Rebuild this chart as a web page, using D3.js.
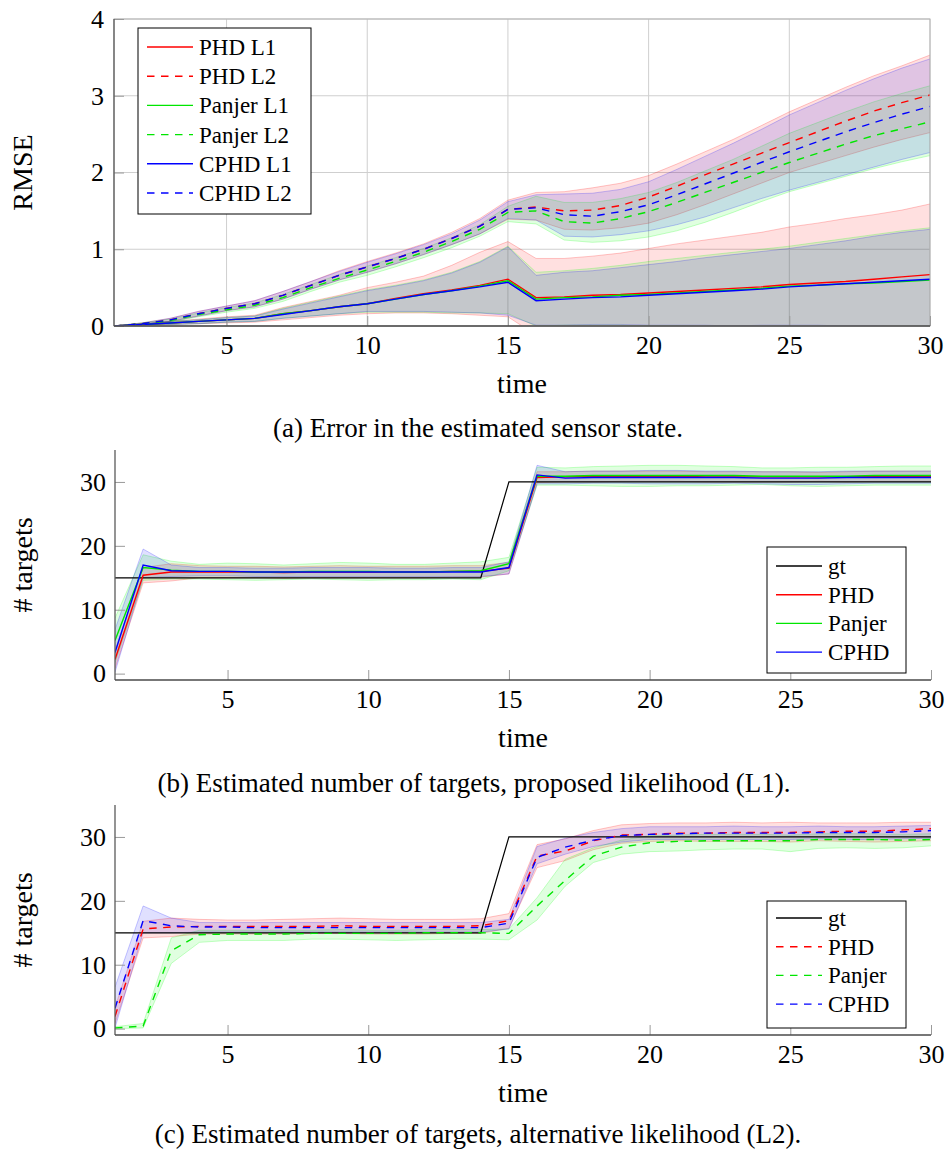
<!DOCTYPE html>
<html>
<head>
<meta charset="utf-8">
<script src="https://cdn.jsdelivr.net/npm/d3@7"></script>
<style>
  body { margin: 0; background: #fff; }
  text { font-family: "Liberation Serif", "Times New Roman", serif; fill: #000; }
</style>
</head>
<body>
<svg id="fig" width="947" height="1153"></svg>
<script>
const time = [1,2,3,4,5,6,7,8,9,10,11,12,13,14,15,16,17,18,19,20,21,22,23,24,25,26,27,28,29,30];
const xTickValues = [5,10,15,20,25,30];
const rmseTicks = [0,1,2,3,4];
const cardTicks = [0,10,20,30];

// (a) RMSE of the sensor state, mean line and band edges
const rmsePhdL1    = [0.00,0.02,0.04,0.06,0.08,0.10,0.16,0.20,0.25,0.29,0.36,0.42,0.47,0.53,0.61,0.37,0.38,0.40,0.41,0.43,0.45,0.47,0.49,0.51,0.54,0.56,0.58,0.61,0.64,0.67];
const rmsePanjerL1 = [0.00,0.02,0.04,0.06,0.08,0.10,0.16,0.20,0.25,0.29,0.35,0.41,0.46,0.52,0.59,0.35,0.37,0.38,0.40,0.41,0.43,0.45,0.47,0.49,0.52,0.53,0.55,0.56,0.58,0.60];
const rmseCphdL1   = [0.00,0.02,0.04,0.06,0.08,0.10,0.15,0.20,0.25,0.29,0.35,0.41,0.46,0.51,0.57,0.33,0.35,0.37,0.38,0.40,0.42,0.44,0.46,0.48,0.51,0.53,0.55,0.57,0.59,0.61];
const rmsePhdL1Hi    = [0.00,0.03,0.06,0.09,0.12,0.14,0.24,0.32,0.40,0.50,0.57,0.65,0.79,0.96,1.10,0.88,0.88,0.91,0.95,1.01,1.07,1.12,1.17,1.22,1.29,1.34,1.40,1.45,1.51,1.59];
const rmsePhdL1Lo    = [0.00,0.01,0.02,0.03,0.04,0.05,0.08,0.11,0.14,0.16,0.17,0.17,0.16,0.14,0.12,-0.12,-0.12,-0.12,-0.13,-0.14,-0.16,-0.17,-0.18,-0.19,-0.20,-0.21,-0.22,-0.22,-0.23,-0.25];
const rmsePanjerL1Hi = [0.00,0.03,0.06,0.08,0.11,0.13,0.23,0.31,0.39,0.47,0.53,0.60,0.70,0.84,1.04,0.70,0.72,0.75,0.79,0.84,0.88,0.92,0.96,1.00,1.04,1.09,1.14,1.19,1.24,1.28];
const rmsePanjerL1Lo = [0.00,0.01,0.02,0.03,0.05,0.06,0.10,0.13,0.16,0.18,0.18,0.18,0.17,0.17,0.16,0.00,0.01,0.01,0.01,0.00,0.00,-0.01,-0.01,-0.02,-0.02,-0.03,-0.04,-0.05,-0.06,-0.08];
const rmseCphdL1Hi   = [0.00,0.03,0.06,0.08,0.11,0.13,0.22,0.30,0.38,0.46,0.52,0.59,0.69,0.83,1.03,0.66,0.70,0.72,0.76,0.80,0.84,0.89,0.93,0.97,1.01,1.06,1.11,1.17,1.22,1.26];
const rmseCphdL1Lo   = [0.00,0.01,0.02,0.03,0.05,0.06,0.10,0.13,0.16,0.19,0.19,0.19,0.18,0.17,0.14,0.01,0.01,0.02,0.02,0.01,0.01,0.01,0.00,0.01,0.01,0.01,0.00,0.00,-0.01,-0.02];

const rmsePhdL2    = [0.00,0.03,0.08,0.16,0.23,0.29,0.40,0.53,0.66,0.77,0.88,1.00,1.14,1.30,1.52,1.55,1.50,1.51,1.57,1.68,1.82,1.97,2.11,2.25,2.39,2.53,2.67,2.80,2.91,3.01];
const rmsePanjerL2 = [0.00,0.03,0.07,0.15,0.21,0.27,0.37,0.50,0.62,0.73,0.84,0.96,1.10,1.26,1.48,1.50,1.36,1.34,1.40,1.49,1.61,1.74,1.87,2.00,2.13,2.25,2.37,2.48,2.57,2.66];
const rmseCphdL2   = [0.00,0.03,0.08,0.16,0.23,0.29,0.40,0.53,0.66,0.77,0.88,1.00,1.14,1.30,1.52,1.54,1.45,1.43,1.49,1.58,1.71,1.85,1.99,2.13,2.27,2.40,2.53,2.65,2.76,2.86];
const rmsePhdL2Hi    = [0.00,0.04,0.10,0.19,0.26,0.33,0.45,0.58,0.72,0.84,0.95,1.07,1.22,1.40,1.64,1.74,1.75,1.80,1.86,1.96,2.11,2.27,2.43,2.61,2.79,2.95,3.11,3.26,3.39,3.53];
const rmsePhdL2Lo    = [0.00,0.02,0.06,0.13,0.20,0.25,0.35,0.48,0.60,0.70,0.81,0.93,1.06,1.20,1.39,1.38,1.26,1.25,1.28,1.34,1.45,1.58,1.72,1.86,2.00,2.11,2.22,2.33,2.43,2.52];
const rmsePanjerL2Hi = [0.00,0.04,0.09,0.17,0.24,0.30,0.41,0.54,0.67,0.78,0.89,1.01,1.15,1.32,1.56,1.69,1.61,1.61,1.66,1.74,1.87,2.02,2.17,2.34,2.51,2.65,2.79,2.92,3.03,3.13];
const rmsePanjerL2Lo = [0.00,0.02,0.05,0.12,0.18,0.23,0.32,0.45,0.57,0.66,0.77,0.89,1.02,1.17,1.36,1.33,1.12,1.09,1.11,1.16,1.24,1.35,1.48,1.62,1.75,1.85,1.95,2.05,2.14,2.22];
const rmseCphdL2Hi   = [0.00,0.04,0.10,0.19,0.26,0.33,0.45,0.58,0.71,0.83,0.94,1.06,1.20,1.38,1.62,1.71,1.72,1.73,1.78,1.88,2.04,2.21,2.38,2.56,2.75,2.91,3.07,3.22,3.36,3.48];
const rmseCphdL2Lo   = [0.00,0.02,0.06,0.13,0.20,0.25,0.35,0.48,0.60,0.70,0.81,0.93,1.06,1.20,1.40,1.38,1.17,1.16,1.19,1.24,1.32,1.42,1.54,1.66,1.77,1.87,1.97,2.07,2.17,2.26];

// (b) and (c) number of targets
const cardGt = [15,15,15,15,15,15,15,15,15,15,15,15,15,15,30,30,30,30,30,30,30,30,30,30,30,30,30,30,30,30];

const cardPhdL1    = [2.2,15.4,15.9,15.9,15.9,15.9,15.8,15.9,15.9,15.9,15.9,15.9,16.0,16.0,16.5,30.7,30.8,30.9,30.9,30.9,30.9,30.8,30.8,30.8,30.8,30.8,30.8,30.9,30.9,30.9];
const cardPanjerL1 = [5.2,16.6,16.2,16.0,16.0,15.9,15.9,16.0,16.0,16.0,15.9,15.9,16.0,16.1,17.2,30.9,30.9,31.0,31.0,31.0,31.0,31.0,31.0,30.9,30.9,30.9,30.9,31.0,31.0,31.0];
const cardCphdL1   = [3.3,17.0,16.1,16.0,16.0,15.9,15.9,15.9,15.9,15.9,15.9,15.9,15.9,15.9,16.6,31.1,30.6,30.7,30.7,30.7,30.7,30.7,30.7,30.6,30.6,30.6,30.7,30.7,30.7,30.7];
const cardPhdL1Hi    = [3.6,16.6,17.2,16.9,16.8,16.8,16.7,16.8,16.9,16.8,16.8,16.8,16.9,16.9,17.4,31.6,31.6,31.7,31.7,31.7,31.7,31.6,31.6,31.6,31.6,31.5,31.6,31.7,31.7,31.7];
const cardPhdL1Lo    = [0.8,14.2,14.5,15.0,15.0,15.0,14.9,15.0,15.0,15.0,15.0,15.0,15.1,15.1,15.6,29.9,30.0,30.0,30.1,30.1,30.1,30.0,30.0,30.0,30.0,30.1,30.0,30.1,30.1,30.1];
const cardPanjerL1Hi = [8.7,18.6,17.6,17.1,17.3,17.2,17.0,17.2,17.4,17.3,17.1,17.1,17.3,17.5,18.2,32.3,32.2,32.4,32.5,32.6,32.6,32.5,32.4,32.2,32.2,32.3,32.3,32.4,32.5,32.5];
const cardPanjerL1Lo = [1.7,14.6,14.8,14.8,14.7,14.6,14.7,14.8,14.7,14.6,14.7,14.7,14.8,14.7,16.1,29.5,29.5,29.4,29.3,29.3,29.4,29.4,29.5,29.6,29.4,29.3,29.4,29.5,29.5,29.5];
const cardCphdL1Hi   = [6.9,19.5,17.0,16.6,16.6,16.5,16.5,16.6,16.6,16.6,16.5,16.5,16.6,16.6,17.5,32.6,31.6,31.7,31.7,31.8,31.8,31.7,31.7,31.6,31.6,31.6,31.7,31.7,31.7,31.7];
const cardCphdL1Lo   = [0.2,15.0,15.2,15.3,15.3,15.2,15.2,15.2,15.2,15.2,15.2,15.2,15.2,15.2,15.6,29.7,29.7,29.8,29.8,29.7,29.7,29.7,29.8,29.7,29.6,29.6,29.7,29.8,29.8,29.8];

const cardPhdL2    = [1.9,15.6,15.9,16.0,16.0,16.0,16.0,16.0,16.1,16.0,16.0,16.0,16.0,16.1,16.9,27.0,27.8,29.4,30.3,30.4,30.6,30.6,30.7,30.7,30.7,30.8,30.9,30.9,31.1,31.3];
const cardPanjerL2 = [0.1,0.4,12.2,14.7,14.8,14.8,14.8,14.9,14.9,14.9,14.9,15.0,15.0,15.0,14.9,19.2,23.2,27.0,28.4,29.1,29.3,29.4,29.4,29.4,29.4,29.6,29.6,29.6,29.5,29.6];
const cardCphdL2   = [3.2,16.9,16.1,15.9,15.9,15.8,15.8,15.8,15.8,15.8,15.8,15.8,15.8,15.8,16.5,26.8,28.4,29.5,30.2,30.4,30.5,30.6,30.6,30.6,30.6,30.7,30.7,30.7,30.8,31.0];
const cardPhdL2Hi    = [3.3,16.8,17.3,17.1,17.0,17.0,17.1,17.2,17.3,17.2,17.1,17.1,17.1,17.2,18.0,28.8,29.7,31.0,31.9,32.1,32.2,32.2,32.3,32.2,32.3,32.2,32.2,32.2,32.3,32.3];
const cardPhdL2Lo    = [0.8,14.2,14.4,14.8,14.8,14.8,14.8,14.9,14.9,14.8,14.8,14.8,14.9,14.9,15.7,25.2,26.3,28.0,29.0,29.3,29.4,29.3,29.3,29.3,29.2,29.4,29.3,29.2,29.3,29.4];
const cardPanjerL2Hi = [0.3,0.8,14.2,15.4,15.4,15.4,15.4,15.4,15.5,15.4,15.4,15.5,15.5,15.5,15.6,20.5,26.5,28.3,29.5,30.2,30.3,30.4,30.4,30.4,30.3,30.5,30.5,30.5,30.4,30.5];
const cardPanjerL2Lo = [0.0,0.1,10.2,13.5,13.8,13.8,13.8,14.0,14.0,13.9,13.8,13.9,14.0,14.0,13.9,17.0,22.3,26.0,27.3,27.7,27.8,28.0,28.1,28.1,27.7,28.2,28.3,28.2,28.3,28.6];
const cardCphdL2Hi   = [6.5,19.2,17.3,16.6,16.6,16.6,16.6,16.6,16.6,16.6,16.6,16.6,16.6,16.6,17.1,28.5,29.8,30.7,31.3,31.6,31.6,31.6,31.7,31.6,31.6,31.7,31.6,31.6,31.7,31.8];
const cardCphdL2Lo   = [0.1,15.0,15.0,15.1,15.1,15.1,15.1,15.1,15.1,15.1,15.1,15.1,15.1,15.1,15.6,25.8,27.3,28.5,29.2,29.6,29.6,29.6,29.6,29.6,29.6,29.7,29.6,29.6,29.7,29.8];

const RED = '#ff0000', GREEN = '#00e600', BLUE = '#0000ff', BAND_GREEN = '#00ff00';
const DASH = '7.5,6.5';

const svg = d3.select('#fig');
svg.append('rect').attr('width', 947).attr('height', 1153).attr('fill', '#fff');

function drawPanel(p) {
  const x = d3.scaleLinear().domain([1, 30]).range([p.left, p.right]);
  const y = d3.scaleLinear().domain(p.yDomain).range([p.bottom, p.top]);
  const g = svg.append('g');

  svg.append('clipPath').attr('id', 'clip-' + p.id)
    .append('rect')
    .attr('x', p.left).attr('y', p.top)
    .attr('width', p.right - p.left).attr('height', p.bottom - p.top);

  if (p.grid) {
    g.append('g').selectAll('line').data(xTickValues).join('line')
      .attr('x1', d => x(d)).attr('x2', d => x(d))
      .attr('y1', p.top).attr('y2', p.bottom)
      .attr('stroke', '#cfcfcf').attr('stroke-width', 1);
    g.append('g').selectAll('line').data(p.yTicks).join('line')
      .attr('x1', p.left).attr('x2', p.right)
      .attr('y1', d => y(d)).attr('y2', d => y(d))
      .attr('stroke', '#cfcfcf').attr('stroke-width', 1);
  }

  const plot = g.append('g').attr('clip-path', `url(#clip-${p.id})`);

  const area = d3.area()
    .x((d, i) => x(time[i]))
    .y0(d => y(d[0]))
    .y1(d => y(d[1]));
  const edge = d3.line().x((d, i) => x(time[i])).y(d => y(d));

  p.bands.forEach(b => {
    const rows = b.lo.map((v, i) => [v, b.hi[i]]);
    plot.append('path').attr('d', area(rows))
      .attr('fill', b.color).attr('fill-opacity', 0.12).attr('stroke', 'none');
    [b.lo, b.hi].forEach(arr => {
      plot.append('path').attr('d', edge(arr))
        .attr('fill', 'none').attr('stroke', b.color)
        .attr('stroke-opacity', 0.22).attr('stroke-width', 1);
    });
  });

  const line = d3.line().x((d, i) => x(time[i])).y(d => y(d));
  p.lines.forEach(s => {
    plot.append('path').attr('d', line(s.values))
      .attr('fill', 'none').attr('stroke', s.color)
      .attr('stroke-width', s.width || 1.4)
      .attr('stroke-dasharray', s.dash || null);
  });

  // axis frame
  if (p.grid) {
    g.append('rect')
      .attr('x', p.left).attr('y', p.top)
      .attr('width', p.right - p.left).attr('height', p.bottom - p.top)
      .attr('fill', 'none').attr('stroke', '#b4b4b4').attr('stroke-width', 1);
  }

  const xAxis = d3.axisBottom(x).tickValues(xTickValues).tickFormat(d3.format('d'))
    .tickSizeInner(-10).tickSizeOuter(0).tickPadding(9.5);
  const yAxis = d3.axisLeft(y).tickValues(p.yTicks).tickFormat(d3.format('d'))
    .tickSizeInner(-10).tickSizeOuter(0).tickPadding(p.yPad);

  const gx = g.append('g').attr('transform', `translate(0,${p.bottom})`).call(xAxis);
  const gy = g.append('g').attr('transform', `translate(${p.left},0)`).call(yAxis);
  [gx, gy].forEach(ax => {
    ax.select('.domain').remove();
    ax.selectAll('.tick line').attr('stroke', '#9a9a9a').attr('stroke-width', 1);
    ax.selectAll('.tick text')
      .style('font-family', '"Liberation Serif", serif')
      .style('font-size', '26px').attr('fill', '#000');
  });

  g.append('line').attr('x1', p.left).attr('x2', p.left)
    .attr('y1', p.top).attr('y2', p.bottom)
    .attr('stroke', '#5a5a5a').attr('stroke-width', 1.3);
  g.append('line').attr('x1', p.left).attr('x2', p.right)
    .attr('y1', p.bottom).attr('y2', p.bottom)
    .attr('stroke', '#4a4a4a').attr('stroke-width', 1.6);

  // labels
  g.append('text')
    .attr('x', (p.left + p.right) / 2).attr('y', p.bottom + 67)
    .attr('text-anchor', 'middle').style('font-size', '28px')
    .text('time');
  g.append('text')
    .attr('transform', `translate(32,${(p.top + p.bottom) / 2}) rotate(-90)`)
    .attr('text-anchor', 'middle').style('font-size', '28px')
    .text(p.yLabel);
  g.append('text')
    .attr('x', p.captionX).attr('y', p.captionY)
    .attr('text-anchor', 'middle').style('font-size', '27px')
    .text(p.caption);

  // legend
  const L = p.legend;
  const lg = g.append('g');
  lg.append('rect')
    .attr('x', L.x).attr('y', L.y).attr('width', L.w).attr('height', L.h)
    .attr('fill', '#fff').attr('stroke', '#000').attr('stroke-width', 1);
  L.entries.forEach((e, i) => {
    const cy = L.firstY + i * L.step;
    lg.append('line')
      .attr('x1', L.x + 9).attr('x2', L.x + 55)
      .attr('y1', cy).attr('y2', cy)
      .attr('stroke', e.color).attr('stroke-width', 1.4)
      .attr('stroke-dasharray', e.dash || null);
    lg.append('text')
      .attr('x', L.x + 61).attr('y', cy + 8)
      .style('font-size', '23px')
      .text(e.label);
  });
}

drawPanel({
  id: 'a', left: 114, right: 930, top: 19, bottom: 326,
  yDomain: [0, 4], yTicks: rmseTicks, yPad: 10, grid: true,
  yLabel: 'RMSE',
  caption: '(a) Error in the estimated sensor state.', captionX: 478, captionY: 437,
  bands: [
    { lo: rmsePhdL1Lo, hi: rmsePhdL1Hi, color: RED },
    { lo: rmsePanjerL1Lo, hi: rmsePanjerL1Hi, color: BAND_GREEN },
    { lo: rmseCphdL1Lo, hi: rmseCphdL1Hi, color: BLUE },
    { lo: rmsePhdL2Lo, hi: rmsePhdL2Hi, color: RED },
    { lo: rmsePanjerL2Lo, hi: rmsePanjerL2Hi, color: BAND_GREEN },
    { lo: rmseCphdL2Lo, hi: rmseCphdL2Hi, color: BLUE }
  ],
  lines: [
    { values: rmsePhdL1, color: RED },
    { values: rmsePanjerL1, color: GREEN },
    { values: rmseCphdL1, color: BLUE },
    { values: rmsePhdL2, color: RED, dash: DASH },
    { values: rmsePanjerL2, color: GREEN, dash: DASH },
    { values: rmseCphdL2, color: BLUE, dash: DASH }
  ],
  legend: {
    x: 138, y: 28, w: 173, h: 186, firstY: 47, step: 29.2,
    entries: [
      { label: 'PHD L1', color: RED },
      { label: 'PHD L2', color: RED, dash: DASH },
      { label: 'Panjer L1', color: GREEN },
      { label: 'Panjer L2', color: GREEN, dash: DASH },
      { label: 'CPHD L1', color: BLUE },
      { label: 'CPHD L2', color: BLUE, dash: DASH }
    ]
  }
});

drawPanel({
  id: 'b', left: 115, right: 931, top: 450, bottom: 680,
  yDomain: [-1, 35], yTicks: cardTicks, yPad: 9, grid: false,
  yLabel: '# targets',
  caption: '(b) Estimated number of targets, proposed likelihood (L1).', captionX: 474, captionY: 792,
  bands: [
    { lo: cardPhdL1Lo, hi: cardPhdL1Hi, color: RED },
    { lo: cardPanjerL1Lo, hi: cardPanjerL1Hi, color: BAND_GREEN },
    { lo: cardCphdL1Lo, hi: cardCphdL1Hi, color: BLUE }
  ],
  lines: [
    { values: cardGt, color: '#000', width: 1.2 },
    { values: cardPhdL1, color: RED },
    { values: cardPanjerL1, color: GREEN },
    { values: cardCphdL1, color: BLUE }
  ],
  legend: {
    x: 767, y: 547, w: 139, h: 126, firstY: 566, step: 28.7,
    entries: [
      { label: 'gt', color: '#000' },
      { label: 'PHD', color: RED },
      { label: 'Panjer', color: GREEN },
      { label: 'CPHD', color: BLUE }
    ]
  }
});

drawPanel({
  id: 'c', left: 115, right: 931, top: 805, bottom: 1035,
  yDomain: [-1, 35], yTicks: cardTicks, yPad: 9, grid: false,
  yLabel: '# targets',
  caption: '(c) Estimated number of targets, alternative likelihood (L2).', captionX: 478, captionY: 1143,
  bands: [
    { lo: cardPhdL2Lo, hi: cardPhdL2Hi, color: RED },
    { lo: cardPanjerL2Lo, hi: cardPanjerL2Hi, color: BAND_GREEN },
    { lo: cardCphdL2Lo, hi: cardCphdL2Hi, color: BLUE }
  ],
  lines: [
    { values: cardGt, color: '#000', width: 1.2 },
    { values: cardPhdL2, color: RED, dash: DASH },
    { values: cardPanjerL2, color: GREEN, dash: DASH },
    { values: cardCphdL2, color: BLUE, dash: DASH }
  ],
  legend: {
    x: 767, y: 901, w: 139, h: 127, firstY: 918, step: 28.7,
    entries: [
      { label: 'gt', color: '#000' },
      { label: 'PHD', color: RED, dash: DASH },
      { label: 'Panjer', color: GREEN, dash: DASH },
      { label: 'CPHD', color: BLUE, dash: DASH }
    ]
  }
});
</script>
</body>
</html>
